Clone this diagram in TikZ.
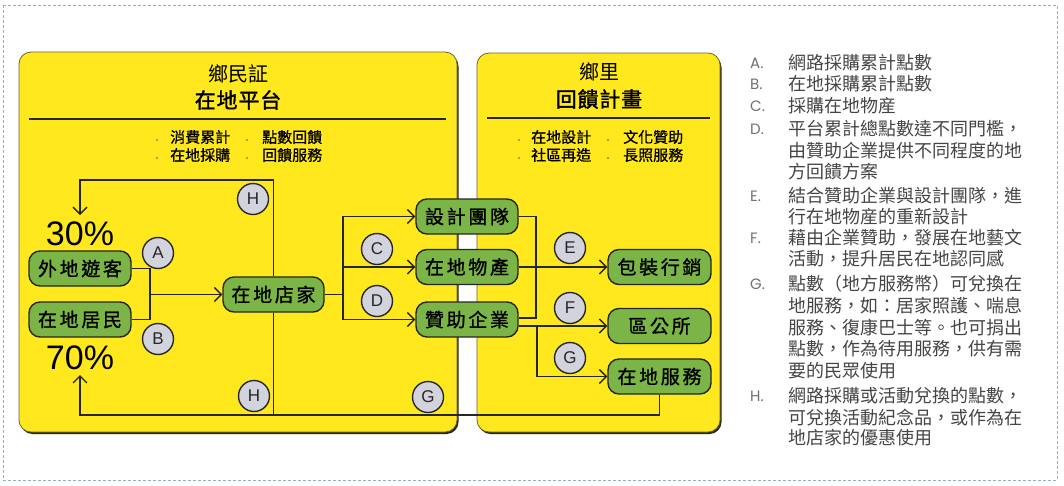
\documentclass[tikz,border=0pt]{standalone}
\usepackage{fontspec}
\usetikzlibrary{arrows.meta}
\newfontfamily\cjk{Noto Sans CJK TC}
\newfontfamily\cjkmed{Noto Sans CJK TC}[FakeBold=0.8]
\newfontfamily\cjkhead{Noto Sans CJK TC}[FakeBold=1.6,LetterSpace=4]
\newfontfamily\cjkls{Noto Sans CJK TC}[LetterSpace=14,FakeBold=1.1]
\newfontfamily\latin{Liberation Sans}
\newfontfamily\thinlatin{Poppins}
\definecolor{linedark}{HTML}{262626}
\definecolor{nodegreen}{HTML}{7CB547}
\definecolor{taggray}{HTML}{D3D3DD}
\definecolor{panelyellow}{HTML}{FFE81E}
\definecolor{panelshadow}{HTML}{2A2710}
\definecolor{panelborder}{HTML}{6B6236}
\definecolor{legendtext}{HTML}{454545}
\definecolor{legendletter}{HTML}{707070}
\definecolor{framedash}{HTML}{9AAEB8}
\definecolor{bulletdot}{HTML}{9C8B2A}
\begin{document}
\begin{tikzpicture}[x=1pt,y=-1pt,
  conn/.style={draw=linedark,line width=1.4pt},
  arr/.style={conn,-{Straight Barb[length=7pt,width=14pt,line width=1.3pt]}},
  box/.style={draw=linedark,line width=1.4pt,fill=nodegreen,rounded corners=11pt,
    minimum width=102pt,minimum height=35pt,inner sep=0pt,
    font=\cjkls\fontsize{19}{19}\selectfont,text=black},
  tag/.style={circle,draw=linedark,line width=1.4pt,fill=taggray,minimum size=31pt,
    inner sep=0pt,font=\latin\fontsize{17}{17}\selectfont,text=linedark},
  pct/.style={inner sep=0pt,font=\latin\fontsize{34}{34}\selectfont,text=black},
  ttl/.style={inner sep=0pt,font=\cjk\fontsize{20}{20}\selectfont,text=black},
  ttlb/.style={inner sep=0pt,font=\cjkhead\fontsize{21}{21}\selectfont,text=black},
  bul/.style={inner sep=0pt,anchor=west,font=\cjkmed\fontsize{15}{15}\selectfont,text=black},
  rulestyle/.style={draw=linedark,line width=1.4pt},
  panelbody/.style={fill=panelyellow,draw=panelborder,line width=0.8pt,rounded corners=12pt},
  panelshade/.style={fill=panelshadow,rounded corners=12pt},
  legtxt/.style={inner sep=0pt,anchor=base west,font=\cjk\fontsize{18}{18}\selectfont,text=legendtext},
  legletter/.style={inner sep=0pt,anchor=base west,font=\thinlatin\fontsize{15}{15}\selectfont,text=legendletter},
  outerframe/.style={draw=framedash,line width=0.8pt,dash pattern=on 3pt off 2pt}]
\useasboundingbox (0,0) rectangle (1064,485);

% outer dashed frame
\draw[outerframe] (3,5) rectangle (1057,480);

% the two yellow panels, each with a dark drop shadow
\fill[panelshade] (20.5,54.5) rectangle (458.5,434);
\draw[panelbody] (19,52) rectangle (457,432);
\fill[panelshade] (478.5,55.5) rectangle (721.5,434);
\draw[panelbody] (477,53) rectangle (720,432);

% panel headings
\node[ttl]  (lt1) at (238,74)  {鄉民証};
\node[ttlb] (lt2) at (238,100) {在地平台};
\draw[rulestyle] (29,119) -- (446,119);
\node[ttl]  (rt1) at (599,72)  {鄉里};
\node[ttlb] (rt2) at (599,99)  {回饋計畫};
\draw[rulestyle] (487,118) -- (710,118);

% bullet lists under the headings
\foreach \dx/\x/\y/\t in {157/170/137/消費累計, 247/262/137/點數回饋,
                          157/170/155/在地採購, 247/262/155/回饋服務,
                          519/531/137/在地設計, 608/623/137/文化贊助,
                          519/531/155/社區再造, 608/623/155/長照服務}{
  \fill[bulletdot] (\dx,\y+3) circle (1.1pt);
  \node[bul] (bl-\x-\y) at (\x,\y) {\t};
}

% percentages
\node[pct] (p30) at (80,234) {30\%};
\node[pct] (p70) at (80,357.5) {70\%};
\coordinate (in30) at (80,215);
\coordinate (in70) at (80,375);

% flow nodes
\node[box] (vis)  at (80,268.5)   {外地遊客};
\node[box] (res)  at (80,319.5)   {在地居民};
\node[box,minimum width=101pt] (shop) at (273.5,294.5) {在地店家};
\node[box] (des)  at (467,216.5)  {設計團隊};
\node[box] (prod) at (467,267)    {在地物產};
\node[box] (spon) at (467,319.5)  {贊助企業};
\node[box,minimum width=103pt] (pack) at (659.5,267) {包裝行銷};
\node[box,minimum width=103pt] (dist) at (659.5,326) {區公所};
\node[box,minimum width=103pt] (serv) at (659.5,376.5) {在地服務};

% junction points
\coordinate (jin)  at (150,294.5);
\coordinate (jout) at (343,294.5);
\coordinate (topc) at (80,180);
\coordinate (botc) at (80,415);
\coordinate (ej)   at (536,318);
\coordinate (gj)   at (537,326);

% visitors and residents into the shops
\draw[conn] (vis.east) -| (jin);
\draw[conn] (res.east) -| (jin);
\draw[arr] (jin) -- (shop.west);

% shops back to the 30% share (H, top)
\draw[arr] (shop.north) |- (topc) -- (in30);

% shops out to design, products and sponsors
\draw[conn] (shop.east) -- (jout);
\draw[arr] (jout) |- (des.west);
\draw[arr] (jout) |- (prod.west);
\draw[arr] (jout) |- (spon.west);

% design team joined with sponsors, products to packaging
\draw[conn] (des.east) -| (ej) -- (spon.east |- ej);
\draw[arr] (prod.east) -- (pack.west);

% sponsors to district office and local services
\draw[arr] (spon.east |- gj) -- (dist.west);
\draw[arr] (gj) |- (serv.west);

% local services back to the 70% share, shops joined in (H, bottom)
\draw[arr] (serv.south) |- (botc) -- (in70);
\draw[conn] (shop.south) -- (shop.south |- botc);

% letter tags
\node[tag] (tA)  at (158,253) {A};
\node[tag] (tB)  at (158,339) {B};
\node[tag] (tC)  at (377,249) {C};
\node[tag] (tD)  at (377,301) {D};
\node[tag] (tE)  at (570,248) {E};
\node[tag] (tF)  at (570,308) {F};
\node[tag] (tG)  at (570,358) {G};
\node[tag] (tG2) at (428,397) {G};
\node[tag] (tH)  at (253,199) {H};
\node[tag] (tH2) at (254,396) {H};

% legend
\foreach \y/\l in {62/A,83/B,105/C,128/D,195/E,237/F,283/G,395/H}{
  \node[legletter] (lg-\l) at (750,\y+6) {\l.};
}
\foreach \y/\t in {62/網路採購累計點數, 83/在地採購累計點數, 105/採購在地物産,
  128/平台累計總點數達不同門檻，, 150/由贊助企業提供不同程度的地, 171/方回饋方案,
  195/結合贊助企業與設計團隊，進, 216/行在地物産的重新設計,
  237/藉由企業贊助，發展在地藝文, 258/活動，提升居民在地認同感,
  283/點數（地方服務幣）可兌換在, 305/地服務，如：居家照護、喘息,
  327/服務、復康巴士等。也可捐出, 348/點數，作為待用服務，供有需, 370/要的民眾使用,
  395/網路採購或活動兌換的點數，, 417/可兌換活動紀念品，或作為在, 437/地店家的優惠使用}{
  \node[legtxt] (lt-\y) at (788,\y+7) {\t};
}
\end{tikzpicture}
\end{document}
